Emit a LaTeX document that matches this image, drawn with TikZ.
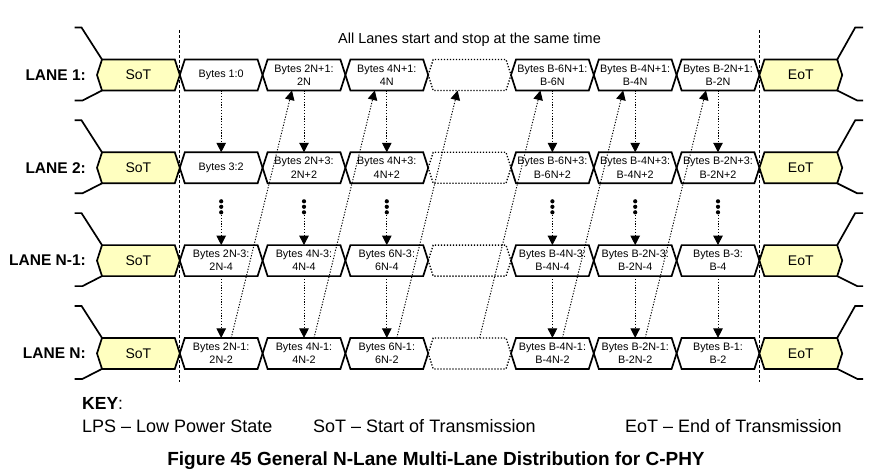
\documentclass[tikz,border=0pt]{standalone}
\usepackage{fontspec}
\setmainfont{Liberation Sans}
\usetikzlibrary{arrows.meta,backgrounds}
\definecolor{termyellow}{RGB}{255,255,192}
\begin{document}
\begin{tikzpicture}[x=1pt,y=-1pt,
  bx/.style={minimum width=82.8pt,minimum height=31pt,inner sep=0pt,outer sep=0pt,align=center,font=\fontsize{10.8}{13.2}\selectfont},
  term/.style={bx,font=\fontsize{14}{16}\selectfont},
  lanelbl/.style={anchor=east,inner sep=0pt,font=\bfseries\fontsize{15.5}{18}\selectfont},
  hexline/.style={line width=1.7pt,line join=miter},
  hexterm/.style={hexline,fill=termyellow},
  hexdot/.style={line width=1.3pt,dash pattern=on 1.3pt off 1.7pt},
  lps/.style={line width=1.7pt},
  dotarrow/.style={line width=0.95pt,dash pattern=on 1.2pt off 1.6pt,-{Triangle[length=9.5pt,width=9.5pt]}},
  vdash/.style={line width=0.7pt,dash pattern=on 3pt off 2pt},
  dotsnode/.style={minimum width=4pt,minimum height=16pt,inner sep=0pt},
]
\useasboundingbox (0,0) rectangle (888,476);

% title
\node[font=\fontsize{14.5}{17}\selectfont] (title) at (469.5,40) {All Lanes start and stop at the same time};

% lane labels and SoT / EoT
\foreach \l/\yc/\lab in {1/75/{LANE 1:},2/167.8/{LANE 2:},3/260.6/{LANE N-1:},4/353.4/{LANE N:}} {
  \node[lanelbl] (lab\l) at (86,\yc) {\lab};
  \node[term] (s\l) at (138.4,\yc) {SoT};
  \node[term] (e\l) at (800.8,\yc) {EoT};
}

% byte boxes
\foreach \t [count=\k] in {{Bytes 1:0},{Bytes 2N+1:\\2N},{Bytes 4N+1:\\4N},{},{Bytes B-6N+1:\\B-6N},{Bytes B-4N+1:\\B-4N},{Bytes B-2N+1:\\B-2N}}
  \node[bx] (b1-\k) at ({138.4+82.8*\k},75) {\t};
\foreach \t [count=\k] in {{Bytes 3:2},{Bytes 2N+3:\\2N+2},{Bytes 4N+3:\\4N+2},{},{Bytes B-6N+3:\\B-6N+2},{Bytes B-4N+3:\\B-4N+2},{Bytes B-2N+3:\\B-2N+2}}
  \node[bx] (b2-\k) at ({138.4+82.8*\k},167.8) {\t};
\foreach \t [count=\k] in {{Bytes 2N-3:\\2N-4},{Bytes 4N-3:\\4N-4},{Bytes 6N-3:\\6N-4},{},{Bytes B-4N-3:\\B-4N-4},{Bytes B-2N-3:\\B-2N-4},{Bytes B-3:\\B-4}}
  \node[bx] (b3-\k) at ({138.4+82.8*\k},260.6) {\t};
\foreach \t [count=\k] in {{Bytes 2N-1:\\2N-2},{Bytes 4N-1:\\4N-2},{Bytes 6N-1:\\6N-2},{},{Bytes B-4N-1:\\B-4N-2},{Bytes B-2N-1:\\B-2N-2},{Bytes B-1:\\B-2}}
  \node[bx] (b4-\k) at ({138.4+82.8*\k},353.4) {\t};

% hexagon outlines
\begin{scope}[on background layer]
\foreach \l in {1,2,3,4} {
  \foreach \k in {1,2,3,5,6,7}
    \draw[hexline] (b\l-\k.west) -- ([xshift=5pt]b\l-\k.north west) -- ([xshift=-5pt]b\l-\k.north east) -- (b\l-\k.east) -- ([xshift=-5pt]b\l-\k.south east) -- ([xshift=5pt]b\l-\k.south west) -- cycle;
  \draw[hexdot] (b\l-4.west) -- ([xshift=5pt]b\l-4.north west) -- ([xshift=-5pt]b\l-4.north east) -- (b\l-4.east) -- ([xshift=-5pt]b\l-4.south east) -- ([xshift=5pt]b\l-4.south west) -- cycle;
  \draw[hexterm] (s\l.west) -- ([xshift=5pt]s\l.north west) -- ([xshift=-5pt]s\l.north east) -- (s\l.east) -- ([xshift=-5pt]s\l.south east) -- ([xshift=5pt]s\l.south west) -- cycle;
  \draw[hexterm] (e\l.west) -- ([xshift=5pt]e\l.north west) -- ([xshift=-5pt]e\l.north east) -- (e\l.east) -- ([xshift=-5pt]e\l.south east) -- ([xshift=5pt]e\l.south west) -- cycle;
  % LPS lines
  \draw[lps] ([xshift=5pt]s\l.north west) -- ++(-20.5,-32) -- ++(-7,0);
  \draw[lps] ([xshift=5pt]s\l.south west) -- ++(-19.5,10) -- ++(-8,0);
  \draw[lps] ([xshift=-5pt]e\l.north east) -- ++(18,-32) -- ++(8,0);
  \draw[lps] ([xshift=-5pt]e\l.south east) -- ++(20,10) -- ++(6,0);
}
\end{scope}

% vertical dashed lines
\coordinate (vt1) at (179.8,30);
\coordinate (vb1) at (179.8,382);
\coordinate (vt2) at (759.4,30);
\coordinate (vb2) at (759.4,382);
\draw[vdash] (vt1) -- (vb1);
\draw[vdash] (vt2) -- (vb2);

% vertical arrows and dots
\foreach \k in {1,2,3,5,6,7} {
  \draw[dotarrow] (b1-\k.south) -- (b2-\k.north);
  \path (b2-\k.south) ++(0,23.5) node[dotsnode] (d\k) {};
  \fill (d\k.center) circle (2.1pt) ([yshift=5.5pt]d\k.center) circle (2.1pt) ([yshift=-5.5pt]d\k.center) circle (2.1pt);
  \draw[dotarrow] (d\k.south) -- (b3-\k.north);
  \draw[dotarrow] (b3-\k.south) -- (b4-\k.north);
}

% diagonal arrows
\foreach \k [evaluate=\k as \kn using {int(\k+1)}] in {1,...,6}
  \draw[dotarrow] ([xshift=10pt]b4-\k.north) -- ([xshift=-12pt]b1-\kn.south);

% key
\node[anchor=base west,inner sep=0pt,font=\fontsize{17.5}{20}\selectfont] (key) at (82,409) {\textbf{KEY}:};
\node[anchor=base west,inner sep=0pt,font=\fontsize{18}{20}\selectfont] (k1) at (82,432) {LPS – Low Power State};
\node[anchor=base west,inner sep=0pt,font=\fontsize{18}{20}\selectfont] (k2) at (313,432) {SoT – Start of Transmission};
\node[anchor=base west,inner sep=0pt,font=\fontsize{18}{20}\selectfont] (k3) at (625,432) {EoT – End of Transmission};
\node[anchor=base,inner sep=0pt,font=\bfseries\fontsize{19}{22}\selectfont] (cap) at (436,465) {Figure 45 General N-Lane Multi-Lane Distribution for C-PHY};
\end{tikzpicture}
\end{document}
